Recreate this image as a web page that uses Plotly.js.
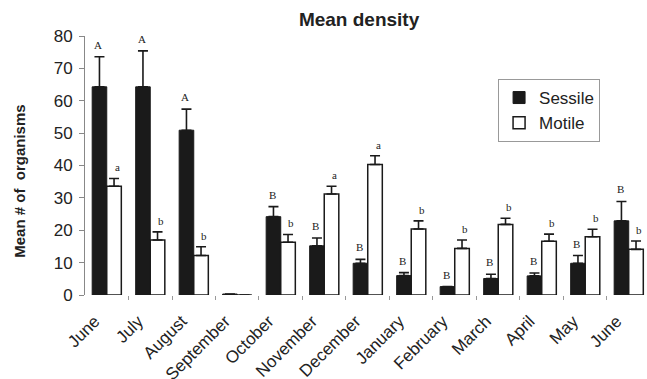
<!DOCTYPE html>
<html>
<head>
<meta charset="utf-8">
<script src="https://cdn.plot.ly/plotly-3.0.1.min.js"></script>
<style>html,body{margin:0;padding:0;background:#fff;}#chart{width:647px;height:379px;}</style>
</head>
<body>
<div id="chart"></div>
<script>
const months = ["June","July","August","September","October","November","December","January","February","March","April","May","June"];
const sessile = [64.3, 64.3, 50.9, 0.3, 24.2, 15.2, 9.8, 6.0, 2.6, 5.1, 5.9, 9.8, 22.9];
const sessileErr = [9.3, 11.1, 6.5, 0, 3.1, 2.4, 1.2, 0.9, 0, 1.3, 0.9, 2.4, 6.0];
const motile = [33.6, 17.0, 12.2, 0, 16.3, 31.2, 40.3, 20.4, 14.4, 21.8, 16.6, 18.0, 14.1];
const motileErr = [2.4, 2.5, 2.7, 0, 2.4, 2.4, 2.7, 2.5, 2.6, 1.9, 2.2, 2.3, 2.6];
const sessileLetters = ["A","A","A","","B","B","B","B","B","B","B","B","B"];
const motileLetters = ["a","b","b","","b","a","a","b","b","b","b","b","b"];

const idx = months.map((_, i) => i);
const zeros = months.map(() => 0);
const font = "Liberation Sans, Arial, sans-serif";

const traces = [
  {
    type: "bar", name: "Sessile", x: idx, y: sessile,
    marker: {color: "#1a1a1a", line: {color: "#1a1a1a", width: 1}},
    error_y: {type: "data", symmetric: false, array: sessileErr, arrayminus: zeros, color: "#1a1a1a", thickness: 1.6, width: 5}
  },
  {
    type: "bar", name: "Motile", x: idx, y: motile,
    marker: {color: "#ffffff", line: {color: "#1a1a1a", width: 1.5}},
    error_y: {type: "data", symmetric: false, array: motileErr, arrayminus: zeros, color: "#1a1a1a", thickness: 1.6, width: 5}
  }
];

const annotations = [];
idx.forEach(i => {
  if (sessileLetters[i]) annotations.push({
    x: i - 0.17, y: sessile[i] + sessileErr[i], xref: "x", yref: "y",
    text: sessileLetters[i], showarrow: false, yshift: 12, xshift: -1,
    font: {family: "Liberation Serif, Times New Roman, serif", size: 11, color: "#222"}
  });
  if (motileLetters[i]) annotations.push({
    x: i + 0.17, y: motile[i] + motileErr[i], xref: "x", yref: "y",
    text: motileLetters[i], showarrow: false, yshift: 11, xshift: 3,
    font: {family: "Liberation Serif, Times New Roman, serif", size: 11, color: "#222"}
  });
});
annotations.push({
  text: "<b>Mean # of  organisms</b>", xref: "paper", yref: "paper",
  x: -0.118, y: 0.44, xanchor: "center", yanchor: "middle", textangle: -90,
  showarrow: false, font: {family: font, size: 15, color: "#222"}
});

const layout = {
  width: 647, height: 379,
  margin: {l: 85, r: 0, t: 36, b: 84},
  paper_bgcolor: "#fff", plot_bgcolor: "#fff",
  barmode: "group", bargap: 0.33, bargroupgap: 0,
  title: {text: "<b>Mean density</b>", font: {family: font, size: 19, color: "#222"}, x: 0.555, xanchor: "center", y: 0.95, yanchor: "middle"},
  xaxis: {
    range: [-0.5, 12.42], tickmode: "array", tickvals: idx, ticktext: months,
    tickangle: -45, ticks: "", showline: false, showgrid: false, zeroline: false,
    tickfont: {family: font, size: 17, color: "#222"}, automargin: false,
    ticklabelstandoff: 12, ticklabelshift: -12,
    minor: {tickmode: "array", tickvals: idx.map(i => i + 0.5), ticks: "outside", ticklen: 4, tickcolor: "#999", showgrid: false}
  },
  yaxis: {
    range: [0, 80], tickvals: [0,10,20,30,40,50,60,70,80], ticks: "outside", ticklen: 5, tickcolor: "#888",
    showline: true, linecolor: "#888", linewidth: 1, showgrid: false, zeroline: false,
    tickfont: {family: font, size: 17, color: "#222"}, automargin: false, ticklabelstandoff: 3
  },
  legend: {
    x: 0.735, y: 0.834, xanchor: "left", yanchor: "top",
    bordercolor: "#999", borderwidth: 1, bgcolor: "#fff", itemwidth: 30,
    font: {family: font, size: 17, color: "#222"}, tracegroupgap: 2
  },
  annotations: annotations,
  showlegend: true
};

Plotly.newPlot("chart", traces, layout, {displayModeBar: false, staticPlot: true});
</script>
</body>
</html>
